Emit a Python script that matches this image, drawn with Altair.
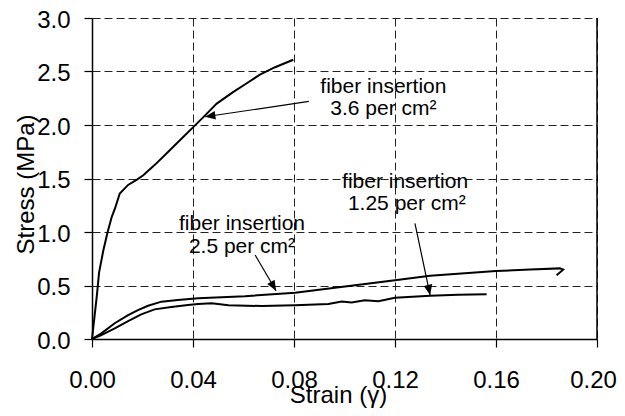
import math
import altair as alt
import pandas as pd

# ---- data (strain, stress) ----
s36_strain = [0, 0.0019, 0.0028, 0.0045, 0.0062, 0.0078, 0.0091, 0.0110, 0.0143, 0.0178, 0.0203, 0.0250,
              0.0302, 0.0349, 0.0401, 0.0448, 0.0494, 0.0560, 0.0613, 0.0665, 0.0725, 0.0797]
s36_stress = [0, 0.40, 0.62, 0.83, 1.00, 1.14, 1.22, 1.36, 1.44, 1.49, 1.53, 1.63,
              1.75, 1.86, 1.98, 2.09, 2.20, 2.31, 2.39, 2.47, 2.54, 2.61]

s25_strain = [0, 0.0037, 0.0090, 0.0143, 0.0182, 0.0222, 0.0275, 0.0340, 0.0420, 0.0606, 0.0804,
              0.1002, 0.1200, 0.1339, 0.1600, 0.1735, 0.1853, 0.1866, 0.1840]
s25_stress = [0, 0.053, 0.147, 0.224, 0.270, 0.311, 0.349, 0.364, 0.380, 0.400, 0.433,
              0.490, 0.550, 0.590, 0.635, 0.650, 0.660, 0.648, 0.595]

s125_strain = [0, 0.0037, 0.0090, 0.0143, 0.0195, 0.0248, 0.0314, 0.0380, 0.0420, 0.0474, 0.0540,
               0.0672, 0.0804, 0.0936, 0.0989, 0.1028, 0.1080, 0.1134, 0.1200, 0.1339, 0.1450, 0.1563]
s125_stress = [0, 0.037, 0.100, 0.168, 0.230, 0.277, 0.300, 0.318, 0.327, 0.333, 0.315,
               0.308, 0.315, 0.327, 0.350, 0.342, 0.362, 0.352, 0.385, 0.405, 0.413, 0.418]

x_ticks = [0, 0.04, 0.08, 0.12, 0.16, 0.20]
y_ticks = [0, 0.5, 1.0, 1.5, 2.0, 2.5, 3.0]

# annotation labels (text lines and anchor points in data units)
label_text = ["fiber insertion", "3.6 per cm\u00b2",
              "fiber insertion", "1.25 per cm\u00b2",
              "fiber insertion", "2.5 per cm\u00b2"]
label_x = [0.1154, 0.1154, 0.1240, 0.1247, 0.0594, 0.0594]
label_y = [2.302, 2.093, 1.411, 1.206, 1.019, 0.804]

# arrows: start -> tip
arrow_x0 = [0.0859, 0.0646, 0.1279]
arrow_y0 = [2.220, 0.785, 1.081]
arrow_x1 = [0.0448, 0.0729, 0.1339]
arrow_y1 = [2.077, 0.451, 0.411]

W, H = 505, 321
FONT = "Liberation Sans"

rows = []
for name, xs_, ys_ in [("3.6", s36_strain, s36_stress),
                       ("2.5", s25_strain, s25_stress),
                       ("1.25", s125_strain, s125_stress)]:
    for i, (a, b) in enumerate(zip(xs_, ys_)):
        rows.append({"series": name, "i": i, "strain": a, "stress": b})
curves = pd.DataFrame(rows)

xs = alt.Scale(domain=[0, 0.2], nice=False, zero=False)
ys = alt.Scale(domain=[0, 3], nice=False, zero=False)

lines = alt.Chart(curves).mark_line(color="black", strokeWidth=2).encode(
    x=alt.X("strain:Q", scale=xs,
            axis=alt.Axis(values=x_ticks, format=".2f", title="Strain (\u03b3)",
                          labelPadding=21, titleX=246, titleY=63,
                          labelOffset=alt.ExprRef("datum.value > 0.199 ? -4 : 0"),
                          titleBaseline="alphabetic", titleAlign="center")),
    y=alt.Y("stress:Q", scale=ys,
            axis=alt.Axis(values=y_ticks, format=".1f", title="Stress (MPa)",
                          labelPadding=14, labelBaseline="middle", labelOffset=2,
                          titleX=-59, titleY=166, titleAngle=270,
                          titleBaseline="alphabetic", titleAlign="center")),
    detail="series:N",
    order="i:Q",
)

border = alt.Chart(pd.DataFrame({"x": [0.2], "y": [0], "y2": [3]})).mark_rule(
    color="black", strokeWidth=1.5).encode(
    x=alt.X("x:Q", scale=xs), y=alt.Y("y:Q", scale=ys), y2="y2:Q")

kx, ky = W / 0.2, H / 3.0
ang = []
for a0, b0, a1, b1 in zip(arrow_x0, arrow_y0, arrow_x1, arrow_y1):
    dx = (a1 - a0) * kx
    dy = -(b1 - b0) * ky
    ang.append(math.degrees(math.atan2(dx, -dy)) % 360)
arrows = pd.DataFrame({"x0": arrow_x0, "y0": arrow_y0, "x1": arrow_x1, "y1": arrow_y1, "ang": ang})

arrow_lines = alt.Chart(arrows).mark_rule(color="black", strokeWidth=1.2).encode(
    x=alt.X("x0:Q", scale=xs), y=alt.Y("y0:Q", scale=ys), x2="x1:Q", y2="y1:Q")

heads = alt.Chart(arrows).mark_point(
    shape="M0,0L0.42,1L-0.42,1Z", filled=True, color="black", opacity=1, size=420,
    strokeWidth=0).encode(
    x=alt.X("x1:Q", scale=xs), y=alt.Y("y1:Q", scale=ys),
    angle=alt.Angle("ang:Q", scale=None))

labels = alt.Chart(pd.DataFrame({"t": label_text, "x": label_x, "y": label_y})).mark_text(
    font=FONT, fontSize=21, color="black", align="center", baseline="alphabetic").encode(
    x=alt.X("x:Q", scale=xs), y=alt.Y("y:Q", scale=ys), text="t:N")

chart = alt.layer(lines, border, arrow_lines, heads, labels).properties(
    width=W, height=H,
    autosize=alt.AutoSizeParams(type="none"),
    padding={"left": 84, "top": 10, "right": 20, "bottom": 69},
    background="white",
).configure_view(stroke=None).configure_axis(
    labelFont=FONT, titleFont=FONT, labelFontSize=24, titleFontSize=24,
    titleFontWeight="normal", labelColor="black", titleColor="black",
    domainColor="black", domainWidth=1.5, tickColor="black", tickWidth=1.2, tickSize=8,
    grid=True, gridColor="#222", gridDash=[8, 4], gridWidth=1, gridOpacity=1,
    labelFlush=False, labelOverlap=False,
)

chart.save("out.html", embed_options={"renderer": "svg", "actions": False})
